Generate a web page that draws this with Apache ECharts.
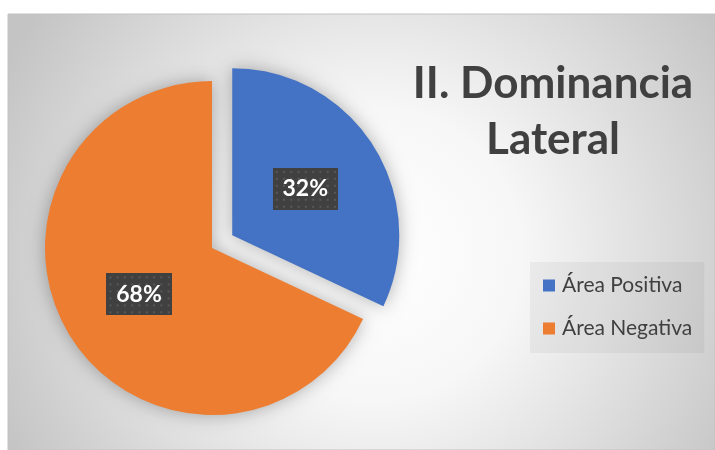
<!DOCTYPE html>
<html>
<head>
<meta charset="utf-8">
<script src="https://cdn.jsdelivr.net/npm/echarts@6/dist/echarts.min.js"></script>
<style>
  html, body { margin: 0; padding: 0; background: #fff; }
  #chart { width: 715px; height: 450px; }
</style>
</head>
<body>
<div id="chart"></div>
<script>
  // datos
  const categorias = ['Área Positiva', 'Área Negativa']
  const valores = [32, 68]
  const colores = ['#4472C4', '#ED7D31']
  const titulo = 'II. Dominancia\nLateral'

  // fondo punteado de las etiquetas (estilo Excel)
  function patronEtiqueta(w, h) {
    let c = document.createElement('canvas')
    c.width = w
    c.height = h
    let ctx = c.getContext('2d')
    ctx.fillStyle = '#404040'
    ctx.fillRect(0, 0, w, h)
    ctx.fillStyle = '#575757'
    for (let y = 3; y < h; y += 7) {
      for (let x = 3; x < w; x += 7) {
        ctx.fillRect(x, y, 2, 2)
      }
    }
    return c
  }
  const patron = patronEtiqueta(63, 42)

  let chart = echarts.init(document.getElementById('chart'))
  let option = {
    animation: false,
    graphic: [{
      type: 'rect',
      z: -10,
      shape: { x: 8, y: 14, width: 707, height: 436 },
      style: {
        fill: {
          type: 'radial', x: 0.52, y: 0.55, r: 0.95,
          colorStops: [
            { offset: 0, color: '#ffffff' },
            { offset: 0.35, color: '#f7f7f7' },
            { offset: 1, color: '#c4c4c4' }
          ]
        },
        stroke: '#c2c2c2',
        lineWidth: 1
      }
    }],
    title: {
      text: titulo,
      left: 553,
      top: 56,
      padding: 0,
      textAlign: 'center',
      textStyle: {
        fontFamily: 'Lato',
        fontWeight: 'bold',
        fontSize: 44,
        lineHeight: 56,
        color: '#404040'
      }
    },
    legend: {
      orient: 'vertical',
      left: 530,
      top: 262,
      padding: [13, 12, 14, 13],
      itemGap: 22,
      itemWidth: 12,
      itemHeight: 12,
      icon: 'rect',
      backgroundColor: 'rgba(0,0,0,0.045)',
      data: categorias,
      textStyle: {
        fontFamily: 'Lato',
        fontSize: 21,
        color: '#404040',
        padding: [0, 0, 0, 2]
      }
    },
    series: [{
      type: 'pie',
      center: [212, 248],
      radius: 167,
      startAngle: 90,
      clockwise: true,
      selectedMode: 'single',
      selectedOffset: 24,
      legendHoverLink: false,
      itemStyle: {
        borderWidth: 0,
        shadowBlur: 18,
        shadowColor: 'rgba(0,0,0,0.3)'
      },
      label: {
        show: true,
        position: 'inside',
        formatter: '{d}%',
        fontFamily: 'Lato',
        fontWeight: 'bold',
        fontSize: 23,
        lineHeight: 22,
        color: '#ffffff',
        overflow: 'none',
        padding: [10, 10, 10, 10],
        backgroundColor: { image: patron },
        shadowBlur: 6,
        shadowOffsetX: 3,
        shadowOffsetY: 3,
        shadowColor: 'rgba(0,0,0,0.45)'
      },
      labelLine: { show: false },
      select: {
        itemStyle: { borderWidth: 0 }
      },
      emphasis: { disabled: true },
      data: categorias.map((n, i) => ({
        name: n,
        value: valores[i],
        selected: i === 0,
        itemStyle: { color: colores[i] }
      }))
    }]
  }
  chart.setOption(option)
</script>
</body>
</html>
